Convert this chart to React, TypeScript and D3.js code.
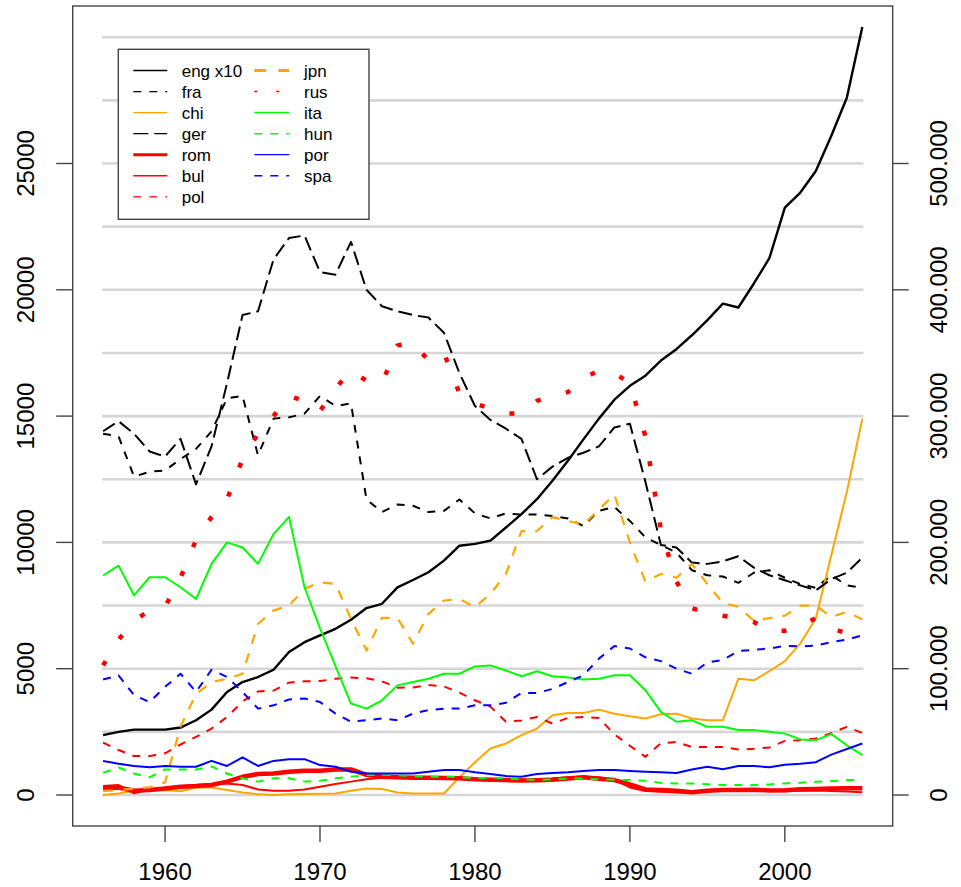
import * as React from "react"
import * as d3 from "d3"

const WIDTH = 961
const HEIGHT = 887

// plot region (pixels) and the data range R put around it
const LEFT = 72.7
const RIGHT = 892.7
const TOP = 6
const BOTTOM = 826

const years = d3.range(1956, 2006)

const eng = [
  2370, 2500, 2590, 2590, 2590, 2670, 2960, 3380, 4080, 4470,
  4670, 4960, 5660, 6050, 6320, 6580, 6940, 7400, 7570, 8220,
  8510, 8820, 9280, 9870, 9940, 10070, 10590, 11120, 11710, 12440,
  13230, 14080, 14900, 15650, 16200, 16600, 17200, 17650, 18200, 18800,
  19450, 19300, 20250, 21250, 23250, 23850, 24700, 26100, 27600, 30400,
]
const fra = [
  14300, 14200, 12600, 12800, 12850, 13300, 13700, 14400, 15700, 15800,
  13450, 14900, 14950, 15100, 15800, 15400, 15500, 11700, 11200, 11500,
  11450, 11200, 11250, 11700, 11150, 10950, 11150, 11100, 11100, 11050,
  10950, 10650, 11250, 11400, 10850, 10200, 9900, 9600, 8900, 8700,
  8650, 8400, 8800, 8900, 8600, 8350, 8200, 8700, 8300, 8200,
]
const chi = [
  0, 60, 170, 170, 200, 150, 300, 300, 200, 100,
  30, 0, 30, 40, 50, 60, 170, 260, 240, 100,
  60, 60, 60, 700, 1300, 1840, 2040, 2370, 2630, 3160,
  3250, 3250, 3380, 3220, 3120, 3030, 3200, 3220, 3030, 2960,
  2960, 4600, 4540, 4900, 5300, 6000, 7000, 9500, 12000, 14900,
]
const ger = [
  14400, 14800, 14300, 13600, 13400, 14100, 12300, 13800, 16300, 19000,
  19150, 21200, 22050, 22150, 20700, 20600, 21900, 20000, 19350, 19150,
  19000, 18900, 18300, 16700, 15400, 14850, 14500, 14100, 12500, 13000,
  13350, 13550, 13800, 14550, 14700, 12400, 9900, 9800, 9200, 9150,
  9250, 9450, 9000, 8700, 8500, 8300, 8100, 8550, 8800, 9400,
]
const rom = [
  260, 300, 170, 200, 260, 330, 355, 395, 530, 720,
  830, 855, 920, 960, 960, 1010, 1010, 800, 720, 700,
  680, 680, 670, 660, 620, 600, 590, 570, 580, 600,
  650, 700, 640, 590, 420, 220, 200, 170, 110, 170,
  200, 200, 210, 180, 190, 230, 240, 260, 270, 270,
]
const bul = [
  355, 395, 65, 220, 260, 330, 395, 435, 460, 395,
  220, 170, 170, 220, 330, 435, 530, 620, 680, 690,
  700, 700, 700, 690, 650, 610, 600, 600, 620, 650,
  700, 720, 700, 600, 300, 160, 130, 100, 80, 150,
  170, 200, 190, 160, 150, 170, 180, 160, 140, 110,
]
const pol = [
  2070, 1780, 1540, 1540, 1650, 2000, 2300, 2630, 3090, 3700,
  4100, 4130, 4450, 4500, 4510, 4600, 4650, 4620, 4500, 4250,
  4260, 4360, 4300, 4050, 3750, 3500, 2900, 2950, 3090, 2830,
  3050, 3090, 3050, 2400, 1950, 1510, 2050, 2100, 1900, 1900,
  1900, 1800, 1830, 1880, 2140, 2170, 2240, 2450, 2700, 2450,
]
const jpn = [
  150, 200, 250, 300, 500, 2700, 4000, 4470, 4600, 4800,
  6780, 7300, 7500, 8160, 8420, 8360, 6970, 5720, 7010, 7010,
  5990, 7170, 7700, 7760, 7440, 7960, 8750, 10450, 10450, 11000,
  10850, 10700, 11300, 11900, 10000, 8450, 8750, 8600, 9150, 8350,
  7600, 7450, 6900, 7000, 7100, 7500, 7500, 7050, 7250, 6950,
]
const rus = [
  5130, 6150, 6900, 7300, 7450, 8600, 10100, 11000, 11700, 13300,
  14300, 15000, 15800, 15600, 15200, 16100, 16800, 16400, 16300, 17800,
  17900, 17200, 17500, 15900, 15500, 15300, 15100, 15100, 15600, 15800,
  15950, 16500, 16800, 16700, 16300, 14200, 10500, 8450, 7400, 7200,
  7100, 7000, 6850, 6500, 6500, 6700, 7000, 6600, 6400, 6800,
]
const ita = [
  8690, 9080, 7900, 8620, 8620, 8225, 7760, 9150, 10000, 9800,
  9150, 10330, 11010, 8225, 6600, 5100, 3620, 3420, 3750, 4340,
  4470, 4600, 4800, 4800, 5090, 5130, 4930, 4700, 4900, 4700,
  4650, 4570, 4600, 4740, 4740, 4150, 3290, 2900, 2960, 2700,
  2700, 2570, 2570, 2500, 2430, 2200, 2170, 2410, 1970, 1580,
]
const hun = [
  880, 1090, 850, 700, 1010, 1010, 1010, 1130, 850, 660,
  530, 660, 660, 530, 560, 660, 720, 790, 790, 790,
  750, 720, 720, 720, 660, 690, 660, 620, 600, 620,
  650, 650, 620, 600, 590, 560, 480, 460, 460, 430,
  400, 395, 400, 420, 460, 490, 520, 550, 590, 590,
]
const por = [
  1350, 1240, 1150, 1100, 1150, 1120, 1120, 1350, 1150, 1490,
  1150, 1350, 1420, 1420, 1185, 1120, 920, 855, 855, 855,
  855, 920, 990, 990, 900, 830, 750, 720, 830, 870,
  900, 950, 990, 990, 950, 920, 900, 870, 1010, 1120,
  1020, 1145, 1145, 1100, 1200, 1240, 1300, 1600, 1820, 2040,
]
const spa = [
  4570, 4740, 3950, 3680, 4280, 4800, 4080, 4960, 4670, 4080,
  3420, 3550, 3780, 3820, 3680, 3220, 2900, 2960, 3030, 2960,
  3220, 3360, 3420, 3420, 3550, 3550, 3650, 4040, 4040, 4200,
  4470, 4740, 5400, 5900, 5800, 5450, 5300, 5000, 4800, 5250,
  5350, 5700, 5750, 5800, 5900, 5880, 5920, 6050, 6150, 6320,
]

const xTicks = [1960, 1970, 1980, 1990, 2000]
const leftTicks = [0, 5000, 10000, 15000, 20000, 25000]
const rightTicks = ["0", "100.000", "200.000", "300.000", "400.000", "500.000"]
const gridValues = d3.range(0, 30001, 2500)

type Series = {
  name: string
  values: number[]
  color: string
  width: number
  dash?: string
  legendWidth: number
  legendDash?: string
}

const series: Series[] = [
  { name: "eng x10", values: eng, color: "#000000", width: 2.4, legendWidth: 1.3 },
  { name: "fra", values: fra, color: "#000000", width: 2, dash: "8 8", legendWidth: 1.3, legendDash: "8 8" },
  { name: "chi", values: chi, color: "#ffa500", width: 2, legendWidth: 1.3 },
  { name: "ger", values: ger, color: "#000000", width: 2, dash: "14 6", legendWidth: 1.3, legendDash: "15 6" },
  { name: "rom", values: rom, color: "#ff0000", width: 4.5, legendWidth: 3 },
  { name: "bul", values: bul, color: "#ff0000", width: 2, legendWidth: 1.6 },
  { name: "pol", values: pol, color: "#ff0000", width: 2, dash: "8 8", legendWidth: 1.3, legendDash: "8 8" },
  { name: "jpn", values: jpn, color: "#ffa500", width: 2.2, dash: "10 10", legendWidth: 3, legendDash: "12 12" },
  { name: "rus", values: rus, color: "#ff0000", width: 4.5, dash: "5 26", legendWidth: 1.5, legendDash: "3 19" },
  { name: "ita", values: ita, color: "#00ff00", width: 2, legendWidth: 1.5 },
  { name: "hun", values: hun, color: "#00ff00", width: 2, dash: "8 8", legendWidth: 1.5, legendDash: "8 8" },
  { name: "por", values: por, color: "#0000ff", width: 2, legendWidth: 1.3 },
  { name: "spa", values: spa, color: "#0000ff", width: 2, dash: "8 8", legendWidth: 1.3, legendDash: "8 8" },
]

const FONT = "'Liberation Sans', Arial, Helvetica, sans-serif"
const AXIS = "#444444"

export default function App() {
  const x = d3.scaleLinear().domain([1954.04, 2006.96]).range([LEFT, RIGHT])
  const y = d3.scaleLinear().domain([-1227, 31235]).range([BOTTOM, TOP])

  const line = (vals: number[]) =>
    d3
      .line<number>()
      .x((_, i) => x(years[i]))
      .y(d => y(d))(vals) || ""

  // legend geometry
  const legX = 118.3
  const legY = 49.3
  const rowH = 21.05
  const cols = [series.slice(0, 7), series.slice(7)]
  const colLine = [
    [133.3, 167.3],
    [254.3, 289.3],
  ]
  const colText = [181.7, 304]

  return (
    <div style={{ position: "absolute", left: 0, top: 0 }}>
      <svg width={WIDTH} height={HEIGHT} style={{ display: "block", background: "#fff" }}>
        {/* grid */}
        {gridValues.map(v => (
          <line
            key={"g" + v}
            x1={x(1956) - 1}
            x2={x(2005) + 1}
            y1={y(v)}
            y2={y(v)}
            stroke="#d6d6d6"
            strokeWidth={2.6}
          />
        ))}

        {/* series */}
        {series.map(s => (
          <path
            key={s.name}
            d={line(s.values)}
            fill="none"
            stroke={s.color}
            strokeWidth={s.width}
            strokeDasharray={s.dash}
            strokeLinejoin="round"
          />
        ))}

        {/* frame */}
        <rect
          x={LEFT}
          y={TOP}
          width={RIGHT - LEFT}
          height={BOTTOM - TOP}
          fill="none"
          stroke={AXIS}
          strokeWidth={1.4}
        />

        {/* bottom axis */}
        {xTicks.map(t => (
          <g key={"x" + t}>
            <line x1={x(t)} x2={x(t)} y1={BOTTOM} y2={BOTTOM + 16} stroke={AXIS} strokeWidth={1.4} />
            <text x={x(t)} y={880} textAnchor="middle" fontFamily={FONT} fontSize={24} fill="#000">
              {t}
            </text>
          </g>
        ))}

        {/* left axis */}
        {leftTicks.map(t => (
          <g key={"l" + t}>
            <line x1={LEFT - 16.5} x2={LEFT} y1={y(t)} y2={y(t)} stroke={AXIS} strokeWidth={1.4} />
            <text
              transform={`translate(34,${y(t)}) rotate(-90)`}
              textAnchor="middle"
              fontFamily={FONT}
              fontSize={24}
              fill="#000"
            >
              {t}
            </text>
          </g>
        ))}

        {/* right axis, same scale shown x20 / 1000 */}
        {leftTicks.map((t, i) => (
          <g key={"r" + t}>
            <line x1={RIGHT} x2={RIGHT + 16} y1={y(t)} y2={y(t)} stroke={AXIS} strokeWidth={1.4} />
            <text
              transform={`translate(947,${y(t)}) rotate(-90)`}
              textAnchor="middle"
              fontFamily={FONT}
              fontSize={24}
              fill="#000"
            >
              {rightTicks[i]}
            </text>
          </g>
        ))}

        {/* legend */}
        <rect x={legX} y={legY} width={369 - legX} height={219.3 - legY} fill="#fff" stroke={AXIS} strokeWidth={1.4} />
        {cols.map((col, c) =>
          col.map((s, i) => {
            const ly = 70.5 + i * rowH
            return (
              <g key={"leg" + s.name}>
                <line
                  x1={colLine[c][0]}
                  x2={colLine[c][1]}
                  y1={ly}
                  y2={ly}
                  stroke={s.color}
                  strokeWidth={s.legendWidth}
                  strokeDasharray={s.legendDash}
                />
                <text x={colText[c]} y={ly + 6} fontFamily={FONT} fontSize={17} fill="#000">
                  {s.name}
                </text>
              </g>
            )
          })
        )}
      </svg>
    </div>
  )
}
